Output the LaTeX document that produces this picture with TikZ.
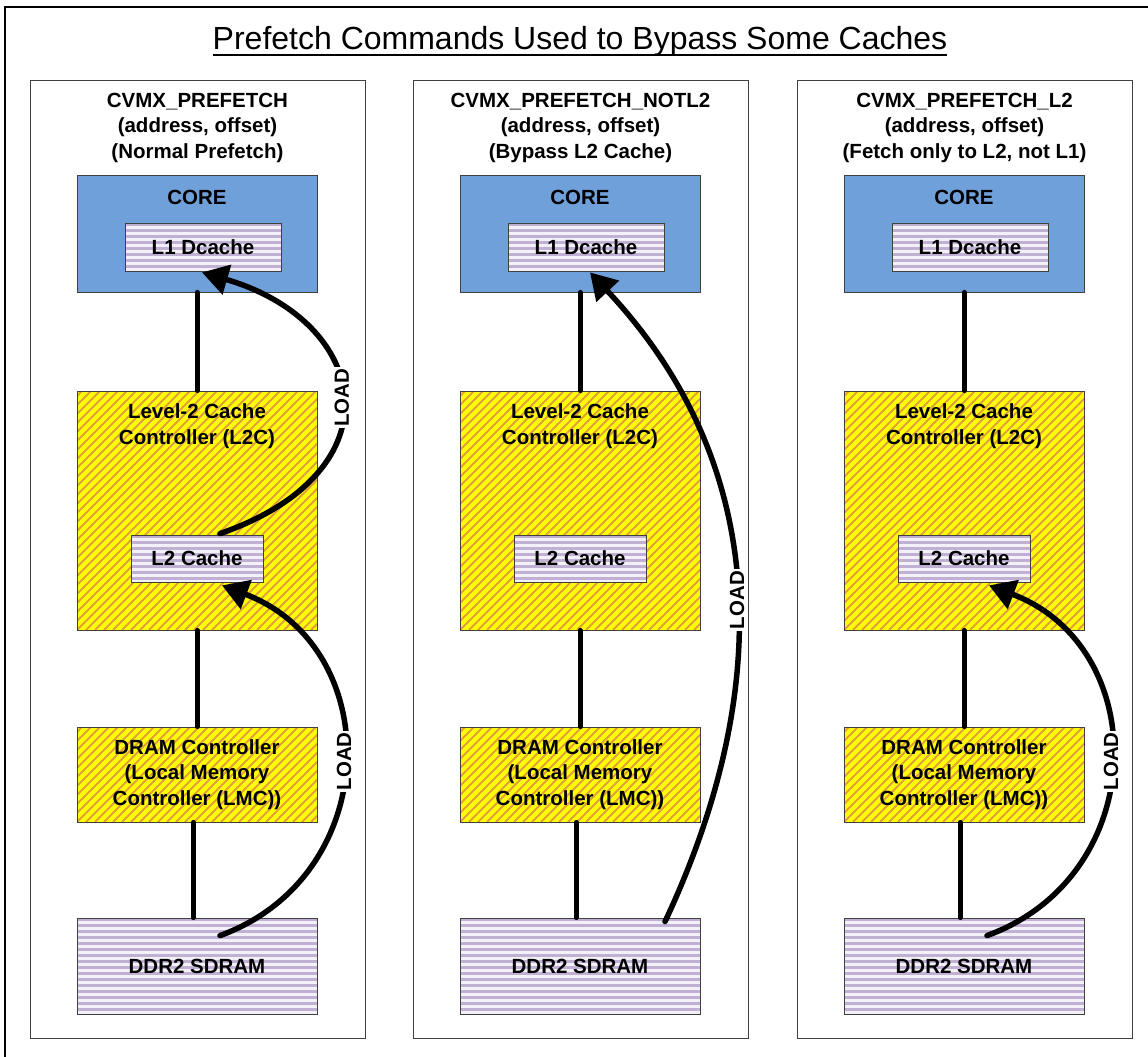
\documentclass[tikz,border=0pt]{standalone}
\usepackage{fontspec}
\setmainfont{Liberation Sans}
\usepackage{xcolor}
\definecolor{coreBlue}{RGB}{112, 160, 218}
\definecolor{ctrlYellow}{RGB}{255, 255, 0}
\definecolor{stripeOrange}{RGB}{226, 160, 60}
\definecolor{lavLight}{RGB}{243, 240, 247}
\definecolor{lavDark}{RGB}{192, 177, 212}
\definecolor{frameGray}{RGB}{64, 64, 64}
\usetikzlibrary{arrows.meta, calc}
\tikzset{
    txt/.style={font=\fontsize{20.5}{25.5}\selectfont\bfseries, align=center, inner sep=0pt},
    panel/.style={draw=frameGray, line width=1pt, minimum width=335pt, minimum height=958pt},
    box/.style={draw=frameGray, line width=0.8pt, txt},
    corebox/.style={box, fill=coreBlue, minimum width=240pt, minimum height=117pt},
    ctrlbox/.style={box, fill=ctrlYellow, minimum width=240pt, path picture={
        \foreach \s in {-252,-243,...,252}
            \draw[stripeOrange, line width=2pt] ($(path picture bounding box.south west)+(\s,0)$) -- ++(300,-300);
    }},
    cachebox/.style={box, fill=lavLight, path picture={
        \foreach \s in {0,6,...,120}
            \fill[lavDark] ($(path picture bounding box.north west)+(0,\s)$) rectangle ++(300,3);
    }},
    link/.style={line width=5pt, line cap=round},
    load/.style={line width=5.5pt, line cap=round, -{Triangle[length=26pt, width=30pt]}},
    loadlbl/.style={txt, fill=white, rotate=90, inner sep=1.5pt}
}

\begin{document}
\begin{tikzpicture}[x=1pt, y=-1pt]
    \useasboundingbox (0,0) rectangle (1148,1057);
    \draw[line width=1.3pt] (5,7) rectangle (1170,1080);

    % --- TITLE ---
    \node[font=\fontsize{32}{38}\selectfont, inner sep=0pt] (figTitle) at (580,41) {Prefetch Commands Used to Bypass Some Caches};
    \draw[line width=1.8pt] ($(figTitle.base west)+(0,6)$) -- ($(figTitle.base east)+(0,6)$);

    % --- NORMAL PREFETCH ---
    \node[panel] (panelA) at (197.5,559) {};
    \node[txt] (headA) at (197.5,127.5) {CVMX\_PREFETCH\\(address, offset)\\(Normal Prefetch)};
    \node[corebox] (coreA) at (197,233.5) {};
    \node[txt] (coreTxtA) at (197,197) {CORE};
    \node[cachebox, minimum width=156pt, minimum height=48pt] (l1A) at (203,247) {L1 Dcache};
    \node[ctrlbox, minimum height=239pt] (l2cA) at (197,510.5) {};
    \node[txt] (l2cTxtA) at (197,426) {Level-2 Cache\\Controller (L2C)};
    \node[cachebox, minimum width=132pt, minimum height=47pt] (l2A) at (197,558.5) {L2 Cache};
    \node[ctrlbox, minimum height=95pt] (dramA) at (197,774.5) {DRAM Controller\\(Local Memory\\Controller (LMC))};
    \node[cachebox, minimum width=240pt, minimum height=96pt] (ddrA) at (197,966) {DDR2 SDRAM};

    \draw[link] (coreA) -- (l2cA);
    \draw[link] (l2cA) -- (dramA);
    \draw[link] ([xshift=-4pt]dramA.south) -- ([xshift=-4pt]ddrA.north);

    \draw[load] ($(ddrA.north)+(23,18)$) .. controls +(164,-60) and +(164,62) .. ($(l2A.south)+(25,3)$)
        node[loadlbl, pos=0.5] (loadA1) {LOAD};
    \draw[load] ($(l2A.north)+(23,-1)$) .. controls +(181,-63) and +(168,49) .. ($(l1A.south)+(-1,1)$)
        node[loadlbl, pos=0.5] (loadA2) {LOAD};

    % --- BYPASS L2 ---
    \begin{scope}[xshift=383pt]
        \node[panel] (panelB) at (197.5,559) {};
        \node[txt] (headB) at (197.5,127.5) {CVMX\_PREFETCH\_NOTL2\\(address, offset)\\(Bypass L2 Cache)};
        \node[corebox] (coreB) at (197,233.5) {};
        \node[txt] (coreTxtB) at (197,197) {CORE};
        \node[cachebox, minimum width=156pt, minimum height=48pt] (l1B) at (203,247) {L1 Dcache};
        \node[ctrlbox, minimum height=239pt] (l2cB) at (197,510.5) {};
        \node[txt] (l2cTxtB) at (197,426) {Level-2 Cache\\Controller (L2C)};
        \node[cachebox, minimum width=132pt, minimum height=47pt] (l2B) at (197,558.5) {L2 Cache};
        \node[ctrlbox, minimum height=95pt] (dramB) at (197,774.5) {DRAM Controller\\(Local Memory\\Controller (LMC))};
        \node[cachebox, minimum width=240pt, minimum height=96pt] (ddrB) at (197,966) {DDR2 SDRAM};

        \draw[link] (coreB) -- (l2cB);
        \draw[link] (l2cB) -- (dramB);
        \draw[link] ([xshift=-4pt]dramB.south) -- ([xshift=-4pt]ddrB.north);

        \draw[load] ($(ddrB.north)+(85,4)$) .. controls +(95,-202) and +(197,210) .. ($(l1B.south)+(4,1)$)
            node[loadlbl, pos=0.5] (loadB) {LOAD};
    \end{scope}

    % --- FETCH TO L2 ONLY ---
    \begin{scope}[xshift=767pt]
        \node[panel] (panelC) at (197.5,559) {};
        \node[txt] (headC) at (197.5,127.5) {CVMX\_PREFETCH\_L2\\(address, offset)\\(Fetch only to L2, not L1)};
        \node[corebox] (coreC) at (197,233.5) {};
        \node[txt] (coreTxtC) at (197,197) {CORE};
        \node[cachebox, minimum width=156pt, minimum height=48pt] (l1C) at (203,247) {L1 Dcache};
        \node[ctrlbox, minimum height=239pt] (l2cC) at (197,510.5) {};
        \node[txt] (l2cTxtC) at (197,426) {Level-2 Cache\\Controller (L2C)};
        \node[cachebox, minimum width=132pt, minimum height=47pt] (l2C) at (197,558.5) {L2 Cache};
        \node[ctrlbox, minimum height=95pt] (dramC) at (197,774.5) {DRAM Controller\\(Local Memory\\Controller (LMC))};
        \node[cachebox, minimum width=240pt, minimum height=96pt] (ddrC) at (197,966) {DDR2 SDRAM};

        \draw[link] (coreC) -- (l2cC);
        \draw[link] (l2cC) -- (dramC);
        \draw[link] ([xshift=-4pt]dramC.south) -- ([xshift=-4pt]ddrC.north);

        \draw[load] ($(ddrC.north)+(23,18)$) .. controls +(164,-60) and +(164,62) .. ($(l2C.south)+(25,3)$)
            node[loadlbl, pos=0.5] (loadC) {LOAD};
    \end{scope}
\end{tikzpicture}
\end{document}
